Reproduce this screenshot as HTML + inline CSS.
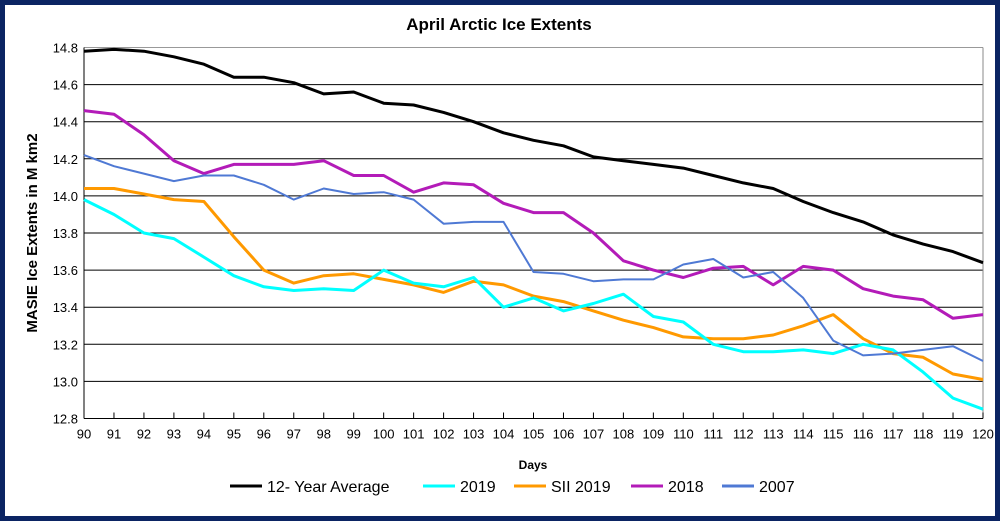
<!DOCTYPE html>
<html><head><meta charset="utf-8"><style>
html,body{margin:0;padding:0;background:#fff}
body{width:1000px;height:521px;overflow:hidden;font-family:"Liberation Sans",Arial,sans-serif}
</style></head><body>
<svg id="c" width="1000" height="521" xmlns="http://www.w3.org/2000/svg" font-family="Liberation Sans, Arial, sans-serif">
<rect x="2.5" y="2.5" width="995" height="516" fill="#fff" stroke="#0b2463" stroke-width="5"/>
<text x="499" y="30" text-anchor="middle" font-size="17" font-weight="bold">April Arctic Ice Extents</text>
<g id="grid"></g>
<g id="lines"></g>
<text transform="translate(37,233) rotate(-90)" text-anchor="middle" font-size="15" font-weight="bold">MASIE Ice Extents in M km2</text>
<text x="533" y="469" text-anchor="middle" font-size="12" font-weight="bold">Days</text>
<g font-size="16">
<line x1="230" y1="486" x2="262" y2="486" stroke="#000" stroke-width="3"/><text x="267" y="492">12- Year Average</text>
<line x1="423" y1="486" x2="455" y2="486" stroke="#00ffff" stroke-width="3"/><text x="460" y="492">2019</text>
<line x1="514" y1="486" x2="546" y2="486" stroke="#ff9900" stroke-width="3"/><text x="551" y="492">SII 2019</text>
<line x1="631" y1="486" x2="663" y2="486" stroke="#b31bb8" stroke-width="3"/><text x="668" y="492">2018</text>
<line x1="722" y1="486" x2="754" y2="486" stroke="#4f79d4" stroke-width="3"/><text x="759" y="492">2007</text>
</g>
</svg>
<script>
var L=84,R=983,T=47.5,B=418.5,ns="http://www.w3.org/2000/svg";
function X(d){return L+(d-90)*(R-L)/30}function Y(v){return T+(14.8-v)*(B-T)/2}
var g=document.getElementById('grid'),h='';
for(var i=0;i<=10;i++){var v=12.8+i*0.2,y=Y(v);
h+='<line x1="'+L+'" x2="'+R+'" y1="'+y+'" y2="'+y+'" stroke="'+(i==10?'#999':'#000')+'" stroke-width="1"/>';
h+='<text x="'+(L-6)+'" y="'+(y+5)+'" text-anchor="end" font-size="13">'+v.toFixed(1)+'</text>';}
h+='<line x1="'+L+'" x2="'+L+'" y1="'+T+'" y2="'+B+'" stroke="#000"/><line x1="'+R+'" x2="'+R+'" y1="'+T+'" y2="'+B+'" stroke="#888"/>';
h+='<line x1="'+L+'" x2="'+R+'" y1="'+B+'" y2="'+B+'" stroke="#000"/>';
for(var d=90;d<=120;d++){var x=X(d);h+='<line x1="'+x+'" x2="'+x+'" y1="'+(B-6)+'" y2="'+B+'" stroke="#000"/>';
h+='<text x="'+x+'" y="'+(B+20)+'" text-anchor="middle" font-size="13">'+d+'</text>';}
g.innerHTML=h;
var S=[
['#ff9900',[14.04,14.04,14.01,13.98,13.97,13.78,13.60,13.53,13.57,13.58,13.55,13.52,13.48,13.54,13.52,13.46,13.43,13.38,13.33,13.29,13.24,13.23,13.23,13.25,13.30,13.36,13.23,13.15,13.13,13.04,13.01]],
['#00ffff',[13.98,13.90,13.80,13.77,13.67,13.57,13.51,13.49,13.50,13.49,13.60,13.53,13.51,13.56,13.40,13.45,13.38,13.42,13.47,13.35,13.32,13.20,13.16,13.16,13.17,13.15,13.20,13.17,13.05,12.91,12.85]],
['#b31bb8',[14.46,14.44,14.33,14.19,14.12,14.17,14.17,14.17,14.19,14.11,14.11,14.02,14.07,14.06,13.96,13.91,13.91,13.80,13.65,13.60,13.56,13.61,13.62,13.52,13.62,13.60,13.50,13.46,13.44,13.34,13.36]],
['#4f79d4',[14.22,14.16,14.12,14.08,14.11,14.11,14.06,13.98,14.04,14.01,14.02,13.98,13.85,13.86,13.86,13.59,13.58,13.54,13.55,13.55,13.63,13.66,13.56,13.59,13.45,13.22,13.14,13.15,13.17,13.19,13.11]],
['#000',[14.78,14.79,14.78,14.75,14.71,14.64,14.64,14.61,14.55,14.56,14.50,14.49,14.45,14.40,14.34,14.30,14.27,14.21,14.19,14.17,14.15,14.11,14.07,14.04,13.97,13.91,13.86,13.79,13.74,13.70,13.64]]];
var l='';S.forEach(function(s){var p=s[1].map(function(v,i){return X(90+i).toFixed(1)+','+Y(v).toFixed(1)}).join(' ');
l+='<polyline points="'+p+'" fill="none" stroke="'+s[0]+'" stroke-width="'+(s[0]=='#4f79d4'?2:3)+'" stroke-linejoin="round"/>';});
document.getElementById('lines').innerHTML=l;
</script>
</body></html>
